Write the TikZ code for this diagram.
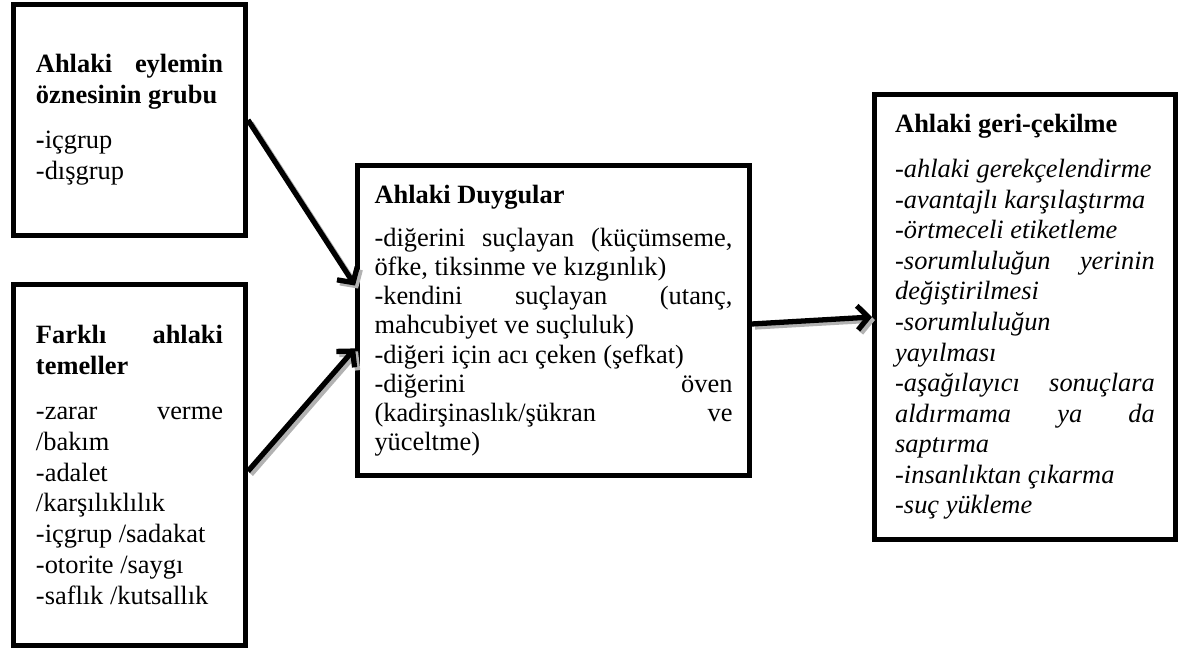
\documentclass[tikz,border=0pt]{standalone}
\usepackage{fontspec}
\setmainfont{Liberation Serif}
\usetikzlibrary{arrows.meta}
\tikzset{kutu/.style={draw,line width=2.1pt,align=justify,inner sep=0pt,font=\fontsize{12}{#1}\selectfont},kutu/.default=14pt,
ok/.style={line width=2.4pt,-{Straight Barb[length=5pt,width=11pt]}},
okgolge/.style={ok,draw=gray!60,transform canvas={shift={(3,3)}}}}
\newcommand{\baslik}[1]{{\bfseries #1\par}\vspace{6.5pt}}
\hyphenpenalty=10000
\begin{document}
\begin{tikzpicture}[x=0.4545pt,y=-0.4545pt]
\useasboundingbox (0,0) rectangle (1186,652);
% kutular
\node[kutu,minimum width=105.6pt,minimum height=105.2pt,text width=85pt] (grup) at (129.5,120) {\baslik{Ahlaki eylemin\linebreak öznesinin grubu}\textbf{-}içgrup\\-dışgrup};
\node[kutu,minimum width=105.6pt,minimum height=164.2pt,text width=85pt] (temel) at (129.5,465) {\baslik{Farklı ahlaki\linebreak temeller}-zarar verme\linebreak /bakım\\-adalet\\/karşılıklılık\\-içgrup /sadakat\\-otorite /saygı\\-saflık /kutsallık};
\node[kutu=13.2pt,minimum width=178.3pt,minimum height=141.1pt,text width=162.7pt] (duygu) at (553.5,320.5) {\baslik{Ahlaki Duygular}-diğerini suçlayan (küçümseme,\linebreak öfke, tiksinme ve kızgınlık)\\-kendini suçlayan (utanç,\linebreak mahcubiyet ve suçluluk)\\-diğeri için acı çeken (şefkat)\\-diğerini öven\linebreak (kadirşinaslık/şükran ve\linebreak yüceltme)};
\node[kutu=13.9pt,minimum width=137pt,minimum height=202.4pt,text width=118pt] (geri) at (1025,317) {\baslik{Ahlaki geri-çekilme}\itshape -ahlaki gerekçelendirme\\-avantajlı karşılaştırma\\-örtmeceli etiketleme\\-sorumluluğun yerinin\linebreak değiştirilmesi\\-sorumluluğun\\yayılması\\-aşağılayıcı sonuçlara\linebreak aldırmama ya da\linebreak saptırma\\-insanlıktan çıkarma\\-suç yükleme};
% oklar
\foreach \a/\b in {grup.east/duygu.170,temel.-3/duygu.188,duygu.-1/geri.west}{\draw[okgolge](\a)--(\b);\draw[ok](\a)--(\b);}
\end{tikzpicture}
\end{document}
